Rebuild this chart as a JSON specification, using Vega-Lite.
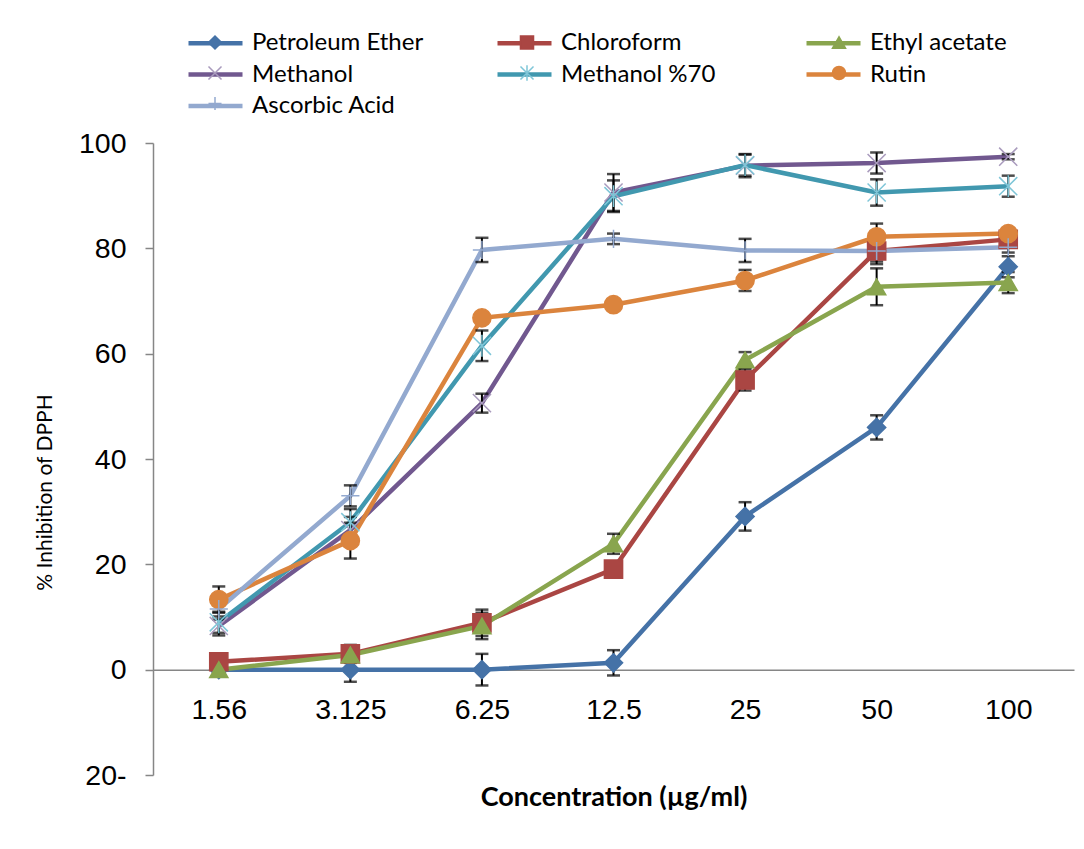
{
  "$schema": "https://vega.github.io/schema/vega-lite/v6.json",
  "autosize": "none",
  "width": 921,
  "height": 632,
  "padding": {"left": 153, "top": 143, "right": 10, "bottom": 74},
  "background": "white",
  "config": {"view": {"stroke": null}},
  "data": {"values": [
    {"conc": "1.56", "series": "Petroleum Ether", "v": 0, "e": 0.5},
    {"conc": "3.125", "series": "Petroleum Ether", "v": 0, "e": 2.3},
    {"conc": "6.25", "series": "Petroleum Ether", "v": 0, "e": 3.0},
    {"conc": "12.5", "series": "Petroleum Ether", "v": 1.3, "e": 2.4},
    {"conc": "25", "series": "Petroleum Ether", "v": 29.1, "e": 2.7},
    {"conc": "50", "series": "Petroleum Ether", "v": 46.0, "e": 2.3},
    {"conc": "100", "series": "Petroleum Ether", "v": 76.5, "e": 2.0},
    {"conc": "1.56", "series": "Chloroform", "v": 1.5, "e": 1.0},
    {"conc": "3.125", "series": "Chloroform", "v": 3.0, "e": 1.7},
    {"conc": "6.25", "series": "Chloroform", "v": 8.9, "e": 2.5},
    {"conc": "12.5", "series": "Chloroform", "v": 19.1, "e": 1.0},
    {"conc": "25", "series": "Chloroform", "v": 55.0, "e": 2.0},
    {"conc": "50", "series": "Chloroform", "v": 79.5, "e": 2.5},
    {"conc": "100", "series": "Chloroform", "v": 81.7, "e": 1.5},
    {"conc": "1.56", "series": "Ethyl acetate", "v": 0, "e": 0.5},
    {"conc": "3.125", "series": "Ethyl acetate", "v": 2.8, "e": 1.5},
    {"conc": "6.25", "series": "Ethyl acetate", "v": 8.3, "e": 2.5},
    {"conc": "12.5", "series": "Ethyl acetate", "v": 23.9, "e": 1.9},
    {"conc": "25", "series": "Ethyl acetate", "v": 58.8, "e": 1.5},
    {"conc": "50", "series": "Ethyl acetate", "v": 72.7, "e": 3.5},
    {"conc": "100", "series": "Ethyl acetate", "v": 73.5, "e": 2.0},
    {"conc": "1.56", "series": "Methanol", "v": 8.3, "e": 1.8},
    {"conc": "3.125", "series": "Methanol", "v": 26.5, "e": 2.5},
    {"conc": "6.25", "series": "Methanol", "v": 50.6, "e": 1.8},
    {"conc": "12.5", "series": "Methanol", "v": 90.6, "e": 3.5},
    {"conc": "25", "series": "Methanol", "v": 95.7, "e": 2.2},
    {"conc": "50", "series": "Methanol", "v": 96.2, "e": 2.0},
    {"conc": "100", "series": "Methanol", "v": 97.4, "e": 0.5},
    {"conc": "1.56", "series": "Methanol %70", "v": 9.0, "e": 2.0},
    {"conc": "3.125", "series": "Methanol %70", "v": 28.0, "e": 2.5},
    {"conc": "6.25", "series": "Methanol %70", "v": 61.5, "e": 2.9},
    {"conc": "12.5", "series": "Methanol %70", "v": 89.9, "e": 3.0},
    {"conc": "25", "series": "Methanol %70", "v": 95.8, "e": 2.0},
    {"conc": "50", "series": "Methanol %70", "v": 90.6, "e": 2.5},
    {"conc": "100", "series": "Methanol %70", "v": 91.8, "e": 2.0},
    {"conc": "1.56", "series": "Rutin", "v": 13.3, "e": 2.5},
    {"conc": "3.125", "series": "Rutin", "v": 24.5, "e": 3.4},
    {"conc": "6.25", "series": "Rutin", "v": 66.8, "e": 0.8},
    {"conc": "12.5", "series": "Rutin", "v": 69.3, "e": 0.8},
    {"conc": "25", "series": "Rutin", "v": 73.9, "e": 2.0},
    {"conc": "50", "series": "Rutin", "v": 82.2, "e": 2.5},
    {"conc": "100", "series": "Rutin", "v": 82.8, "e": 1.0},
    {"conc": "1.56", "series": "Ascorbic Acid", "v": 11.5, "e": 2.0},
    {"conc": "3.125", "series": "Ascorbic Acid", "v": 33.0, "e": 2.0},
    {"conc": "6.25", "series": "Ascorbic Acid", "v": 79.7, "e": 2.3},
    {"conc": "12.5", "series": "Ascorbic Acid", "v": 81.8, "e": 1.0},
    {"conc": "25", "series": "Ascorbic Acid", "v": 79.6, "e": 2.2},
    {"conc": "50", "series": "Ascorbic Acid", "v": 79.5, "e": 2.0},
    {"conc": "100", "series": "Ascorbic Acid", "v": 80.2, "e": 1.0}
  ]},
  "transform": [{"calculate": "datum.series", "as": "marker"}],
  "encoding": {
    "x": {
      "field": "conc", "type": "ordinal",
      "sort": ["1.56", "3.125", "6.25", "12.5", "25", "50", "100"],
      "scale": {"type": "point", "padding": 0.5},
      "axis": {
        "title": "Concentration (µg/ml)",
        "offset": -105.33,
        "labelAngle": 0,
        "ticks": false,
        "grid": false,
        "domainColor": "#868686",
        "domainWidth": 1.5,
        "labelFont": "Liberation Sans",
        "labelFontSize": 28.5,
        "labelColor": "#000000",
        "labelPadding": 26,
        "titleFont": "Lato",
        "titleFontSize": 27,
        "titleFontWeight": "bold",
        "titleColor": "#000000",
        "titleY": 115,
        "titleBaseline": "top"
      }
    },
    "y": {
      "field": "v", "type": "quantitative",
      "scale": {"domain": [-20, 100], "nice": false, "zero": false},
      "axis": {
        "title": "% Inhibition of DPPH",
        "values": [-20, 0, 20, 40, 60, 80, 100],
        "labelExpr": "datum.value < 0 ? abs(datum.value) + '-' : datum.label",
        "grid": false,
        "domainColor": "#868686",
        "domainWidth": 1.5,
        "tickColor": "#868686",
        "tickSize": 8,
        "tickWidth": 1.5,
        "labelFont": "Liberation Sans",
        "labelFontSize": 28.5,
        "labelColor": "#000000",
        "labelPadding": 19,
        "titleFont": "Lato",
        "titleFontSize": 21,
        "titleFontWeight": "normal",
        "titleColor": "#000000",
        "titleX": -98,
        "titleY": 349
      }
    }
  },
  "layer": [
    {
      "mark": {"type": "line", "strokeWidth": 4.5},
      "encoding": {
        "color": {
          "field": "series", "type": "nominal",
          "sort": ["Petroleum Ether", "Chloroform", "Ethyl acetate", "Methanol", "Methanol %70", "Rutin", "Ascorbic Acid"],
          "scale": {"range": ["#4572A7", "#AA4643", "#89A54E", "#71588F", "#4198AF", "#DB843D", "#93A9CF"]},
          "legend": {
            "title": null,
            "orient": "none",
            "legendX": 50,
            "legendY": -112.5,
            "direction": "horizontal",
            "columns": 3,
            "gridAlign": "all",
            "columnPadding": 64,
            "rowPadding": 6.5,
            "padding": 0,
            "symbolType": "M-2.7,0H2.7",
            "symbolSize": 400,
            "symbolStrokeWidth": 4.5,
            "labelFont": "Lato",
            "labelFontSize": 24,
            "labelColor": "#000000",
            "labelOffset": 24,
            "labelLimit": 400
          }
        }
      }
    },
    {
      "mark": {"type": "errorbar", "ticks": {"size": 13, "thickness": 2.5, "color": "#000000"}, "rule": {"color": "#000000", "strokeWidth": 2}},
      "encoding": {
        "y": {"field": "v", "type": "quantitative"},
        "yError": {"field": "e"}
      }
    },
    {
      "mark": {"type": "point", "size": 330, "strokeWidth": 1.5, "opacity": 1},
      "encoding": {
        "fill": {
          "field": "marker", "type": "nominal",
          "scale": {
            "domain": ["Petroleum Ether", "Chloroform", "Ethyl acetate", "Methanol", "Methanol %70", "Rutin", "Ascorbic Acid"],
            "range": ["#4572A7", "#AA4643", "#89A54E", "#71588F", "#4198AF", "#DB843D", "#93A9CF"]
          },
          "legend": {
            "title": null,
            "orient": "none",
            "legendX": 50,
            "legendY": -112.5,
            "direction": "horizontal",
            "columns": 3,
            "gridAlign": "all",
            "columnPadding": 288,
            "rowPadding": 6.5,
            "padding": 0,
            "symbolSize": 170,
            "symbolStrokeWidth": 1.5,
            "symbolOpacity": 1,
            "labelFont": "Lato",
            "labelFontSize": 24,
            "labelExpr": "' '",
            "labelOffset": 0,
            "labelLimit": 400
          }
        },
        "stroke": {
          "field": "marker", "type": "nominal",
          "scale": {
            "domain": ["Petroleum Ether", "Chloroform", "Ethyl acetate", "Methanol", "Methanol %70", "Rutin", "Ascorbic Acid"],
            "range": ["#4572A7", "#AA4643", "#89A54E", "#A99BBD", "#7FC6D8", "#DB843D", "#93A9CF"]
          }
        },
        "shape": {
          "field": "marker", "type": "nominal",
          "scale": {
            "domain": ["Petroleum Ether", "Chloroform", "Ethyl acetate", "Methanol", "Methanol %70", "Rutin", "Ascorbic Acid"],
            "range": ["diamond", "square", "triangle-up", "M-1,-1L1,1M-1,1L1,-1", "M-1,-1L1,1M-1,1L1,-1M0,-1.2V1.2", "circle", "M0,-1V1M-1,0H1"]
          }
        }
      }
    }
  ]
}
